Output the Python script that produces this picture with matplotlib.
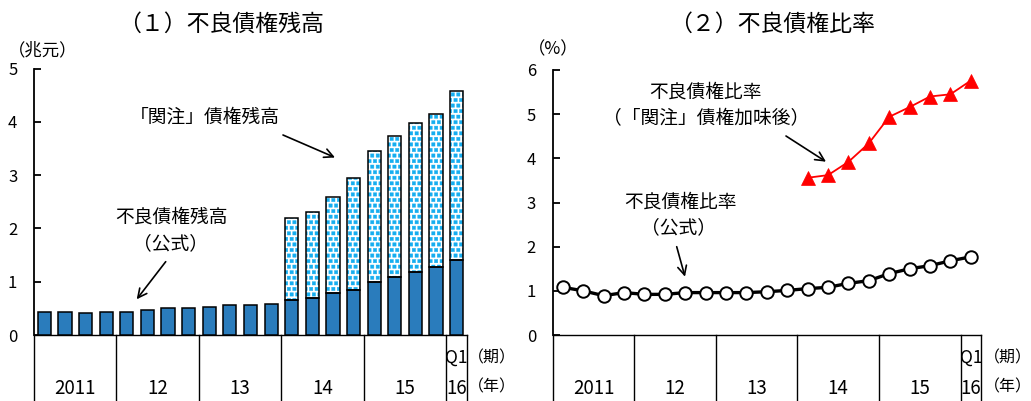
import numpy as np
import matplotlib
matplotlib.use("Agg")
import matplotlib.pyplot as plt
import matplotlib.hatch as mhatch
from matplotlib.path import Path
from matplotlib.transforms import blended_transform_factory

plt.rcParams["font.family"] = ["Noto Sans CJK JP", "DejaVu Sans"]
plt.rcParams["hatch.linewidth"] = 0.3

# ---------------- data ----------------
year_labels = ["2011", "12", "13", "14", "15", "16"]
quarters_per_year = [4, 4, 4, 4, 4, 1]
last_quarter_label = "Q1"

# NPL outstanding, official (trillion yuan), 2011Q1 - 2016Q1
npl_official = [0.44, 0.44, 0.41, 0.44, 0.44, 0.47, 0.50, 0.50, 0.53, 0.56, 0.56,
                0.59, 0.66, 0.69, 0.78, 0.84, 1.00, 1.09, 1.19, 1.28, 1.41]
# special-mention loans (trillion yuan), 2014Q1 - 2016Q1
special_mention = [1.53, 1.62, 1.81, 2.11, 2.45, 2.64, 2.79, 2.87, 3.17]
special_start = 12  # index of 2014Q1

# NPL ratio (%), official, 2011Q1 - 2016Q1
npl_ratio_official = [1.08, 1.00, 0.89, 0.96, 0.92, 0.92, 0.96, 0.96, 0.96, 0.96, 0.98,
                      1.01, 1.05, 1.08, 1.17, 1.23, 1.39, 1.50, 1.57, 1.68, 1.77]
# NPL ratio (%) including special-mention loans, 2014Q1 - 2016Q1
npl_ratio_incl_sm = [3.56, 3.62, 3.92, 4.34, 4.94, 5.16, 5.40, 5.45, 5.76]

BAR_BLUE = "#2a7cbc"
DOT_CYAN = "#16aef0"


# filled-square dot pattern for the hatched bars (replaces the '.' hatch)
class SquareDots(mhatch.Shapes):
    size = 0.3
    filled = True

    def __init__(self, hatch, density):
        self.num_rows = hatch.count(".") * density
        self.shape_vertices = np.array(
            [[-1, -1], [1, -1], [1, 1], [-1, 1], [-1, -1]], dtype=float)
        self.shape_codes = np.array(
            [Path.MOVETO, Path.LINETO, Path.LINETO, Path.LINETO, Path.CLOSEPOLY],
            dtype=Path.code_type)
        super().__init__(hatch, density)


mhatch._hatch_types = [SquareDots if t is mhatch.SmallFilledCircles else t
                       for t in mhatch._hatch_types]

W, H = 1031, 401


def fx(px):
    return px / W


def fy(py):
    return 1 - py / H


fig = plt.figure(figsize=(W / 100, H / 100), dpi=100)
ax1 = fig.add_axes([fx(34), fy(335), fx(467) - fx(34), fy(68.5) - fy(335)])
ax2 = fig.add_axes([fx(552.7), fy(335), fx(981) - fx(552.7), fy(70) - fy(335)])

n = sum(quarters_per_year)
x = np.arange(n)


def style_axis(ax, ymax, table_right_text_x):
    ax.set_xlim(-0.5, n - 0.5)
    ax.set_ylim(0, ymax)
    ax.set_yticks(range(ymax + 1))
    ax.set_xticks([])
    for s in ["top", "right"]:
        ax.spines[s].set_visible(False)
    ax.spines["left"].set_linewidth(1.3)
    ax.spines["bottom"].set_linewidth(1.0)
    ax.tick_params(axis="y", direction="in", length=5, width=1.3, pad=12,
                   labelsize=12)
    ax.patch.set_alpha(0)

    # year / quarter table under the x axis
    tr = blended_transform_factory(ax.transData, fig.transFigure)
    bounds = np.concatenate([[0], np.cumsum(quarters_per_year)]) - 0.5
    for b in bounds:
        ax.plot([b, b], [0, fy(335)], transform=tr, color="black", lw=1.0,
                clip_on=False)
    centers = (bounds[:-1] + bounds[1:]) / 2
    for c, lab in zip(centers, year_labels):
        ax.text(c, fy(388), lab, transform=tr, ha="center", va="center",
                fontsize=13.5)
    ax.text(centers[-1], fy(357.5), last_quarter_label, transform=tr,
            ha="center", va="center", fontsize=12.5)
    fig.text(fx(table_right_text_x), fy(357.5), "（期）", ha="left",
             va="center", fontsize=11.5)
    fig.text(fx(table_right_text_x), fy(387), "（年）", ha="left",
             va="center", fontsize=11.5)


style_axis(ax1, 5, 468)
style_axis(ax2, 6, 984)

# ---------------- (1) NPL outstanding ----------------
bw = 0.64
ax1.bar(x, npl_official, width=bw, color=BAR_BLUE, edgecolor="black",
        linewidth=1.1, zorder=3)
xs = x[special_start:]
base = np.array(npl_official[special_start:])
ax1.bar(xs, special_mention, bottom=base, width=bw, color="white",
        edgecolor=DOT_CYAN, hatch="...", linewidth=0, zorder=2)
ax1.bar(xs, special_mention, bottom=base, width=bw, fill=False,
        edgecolor="black", linewidth=1.1, zorder=3)

# ---------------- (2) NPL ratio ----------------
ax2.plot(x, npl_ratio_official, color="black", lw=2.4, marker="o", ms=9,
         mfc="white", mec="black", mew=1.4, zorder=3, clip_on=False)
ax2.plot(x[special_start:], npl_ratio_incl_sm, color="red", lw=1.3,
         marker="^", ms=9.5, mfc="red", mec="red", mew=0.5, zorder=3,
         clip_on=False)

# ---------------- titles and units ----------------
fig.text(fx(221), fy(24), "（１）不良債権残高", ha="center", va="center",
         fontsize=16.5)
fig.text(fx(771.7), fy(24), "（２）不良債権比率", ha="center", va="center",
         fontsize=16.5)
fig.text(fx(43), fy(50), "（兆元）", ha="center", va="center", fontsize=12.5)
fig.text(fx(553), fy(49), "（%）", ha="center", va="center", fontsize=12.5)

# ---------------- annotations ----------------
fig.text(fx(205), fy(117), "「関注」債権残高", ha="center", va="center",
         fontsize=13.5)
fig.text(fx(171), fy(216.7), "不良債権残高", ha="center", va="center",
         fontsize=13.5)
fig.text(fx(171), fy(244), "（公式）", ha="center", va="center",
         fontsize=13.5)
fig.text(fx(705.8), fy(91.7), "不良債権比率", ha="center", va="center",
         fontsize=13.5)
fig.text(fx(705.8), fy(119), "（「関注」債権加味後）", ha="center",
         va="center", fontsize=13.5)
fig.text(fx(680), fy(201.7), "不良債権比率", ha="center", va="center",
         fontsize=13.5)
fig.text(fx(678), fy(228), "（公式）", ha="center", va="center",
         fontsize=13.5)


def arrow(start_px, end_px):
    fig.add_artist(matplotlib.patches.FancyArrowPatch(
        (fx(start_px[0]), fy(start_px[1])), (fx(end_px[0]), fy(end_px[1])),
        transform=fig.transFigure, arrowstyle="->", mutation_scale=16,
        color="black", lw=1.2, shrinkA=0, shrinkB=0))


arrow((283, 135), (335, 157.5))
arrow((165.7, 261.7), (136.7, 299.3))
arrow((786, 136), (826, 161.7))
arrow((676.7, 246.7), (685, 276.7))

fig.savefig("out.png", dpi=100)
